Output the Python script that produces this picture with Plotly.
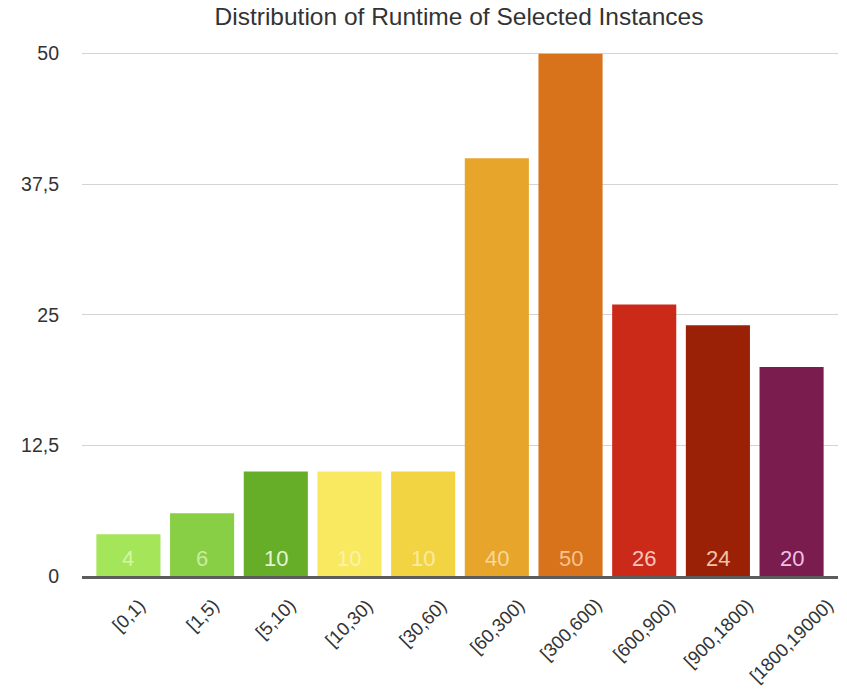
import plotly.graph_objects as go

categories = ["[0,1)", "[1,5)", "[5,10)", "[10,30)", "[30,60)", "[60,300)",
              "[300,600)", "[600,900)", "[900,1800)", "[1800,19000)"]
counts = [4, 6, 10, 10, 10, 40, 50, 26, 24, 20]
bar_colors = ["#a4e55a", "#88cf45", "#66ad28", "#f8e961", "#f2d443", "#e8a52b",
              "#d8721b", "#cc2a19", "#9b2106", "#7b1c4e"]
label_colors = ["#d4f5a8", "#c8eca0", "#e6f4d6", "#fcf3a8", "#fbeaa0", "#f8d89a",
                "#f8c48e", "#f8c4bc", "#f2c2a8", "#f2c0e0"]
ytick_vals = [0, 12.5, 25, 37.5, 50]
ytick_text = ["0", "12,5", "25", "37,5", "50"]

FONT = "Liberation Sans, Arial, Helvetica, sans-serif"

fig = go.Figure(go.Bar(
    x=list(range(len(categories))),
    y=counts,
    marker=dict(color=bar_colors, line=dict(width=0)),
    hovertext=categories,
    hoverinfo="text+y",
))

# value labels at the foot of each bar
for i, v in enumerate(counts):
    fig.add_annotation(
        x=i, y=0, xref="x", yref="y",
        text=str(v), showarrow=False,
        xanchor="center", yanchor="bottom", yshift=3,
        font=dict(size=22, color=label_colors[i], family=FONT),
    )

# rotated category labels, centred under each bar
for i, c in enumerate(categories):
    fig.add_annotation(
        x=i, y=0, xref="x", yref="y",
        text=c, showarrow=False, textangle=-45,
        xanchor="center", yanchor="top", yshift=-16,
        font=dict(size=18.5, color="#333333", family=FONT),
    )

fig.update_layout(
    width=847, height=691,
    margin=dict(l=82, r=9, t=38, b=115),
    paper_bgcolor="white", plot_bgcolor="white",
    bargap=0.13,
    showlegend=False,
    font=dict(family=FONT, color="#333333"),
    title=dict(text="Distribution of Runtime of Selected Instances",
               x=459/847, xanchor="center", y=1-16/691, yanchor="middle",
               font=dict(size=24.5, color="#333333")),
    xaxis=dict(
        range=[-0.63, 9.63],
        tickmode="array", tickvals=list(range(len(categories))), ticktext=categories,
        showticklabels=False,
        showgrid=False, zeroline=False,
        showline=True, linewidth=3, linecolor="#5c5c5c",
        ticks="", fixedrange=True,
    ),
    yaxis=dict(
        range=[0, 51.5],
        tickmode="array", tickvals=ytick_vals, ticktext=ytick_text,
        tickfont=dict(size=19.5, color="#333333"),
        showgrid=True, gridcolor="#d4d4d4", gridwidth=1,
        zeroline=False, showline=False, ticks="",
        ticklabelstandoff=22,
    ),
)

fig.write_html("out.html")
